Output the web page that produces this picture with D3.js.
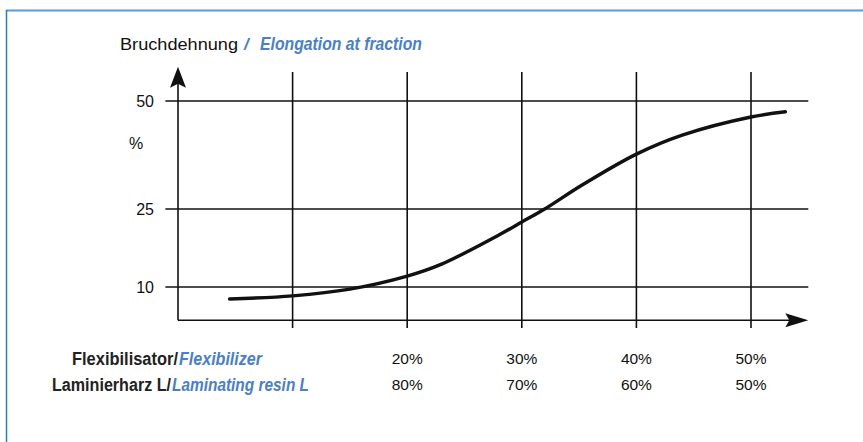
<!DOCTYPE html>
<html lang="de">
<head>
  <meta charset="UTF-8">
  <title>Bruchdehnung / Elongation at fraction</title>
  <script src="https://d3js.org/d3.v7.min.js"></script>
  <style>
    body { margin: 0; background: #fff; }
    svg { display: block; }
    .label { font-family: "Liberation Sans", Arial, sans-serif; fill: #111; }
    .cond { font-family: "Liberation Sans", Arial, sans-serif; font-weight: bold; fill: #222; }
    .blue { fill: #4a80c6; font-style: italic; }
    .grid { stroke: #111; stroke-width: 1.6; }
  </style>
</head>
<body>
  <svg id="chart"></svg>
  <script>
    // Flexibilizer content (%) vs. elongation at fracture (%)
    const flexPct    = [4.5, 10, 15, 20, 23, 28, 30, 32, 35.3, 40, 44, 50, 53];
    const elongation = [7.7, 8.3, 9.6, 12.1, 14.4, 20.0, 22.5, 25, 30.6, 37.7, 42.1, 46.3, 47.5];

    const yTicks = [10, 25, 50];
    const xGrid = [10, 20, 30, 40, 50];
    const flexLabels = ["20%", "30%", "40%", "50%"];
    const resinLabels = ["80%", "70%", "60%", "50%"];
    const labelAt = [20, 30, 40, 50];

    const width = 863;
    const height = 442;

    const svg = d3.select("#chart")
      .attr("width", width)
      .attr("height", height);

    // frame
    svg.append("line")
      .attr("x1", 6).attr("x2", width).attr("y1", 10.5).attr("y2", 10.5)
      .attr("stroke", "#5b9bd5").attr("stroke-width", 2);
    svg.append("line")
      .attr("x1", 6.5).attr("x2", 6.5).attr("y1", 10).attr("y2", height)
      .attr("stroke", "#1f7fd0").attr("stroke-width", 1.5);

    // scales (the y axis of the original is not evenly spaced)
    const x = d3.scaleLinear().domain([0, 50]).range([178, 751]);
    const y = d3.scaleLinear().domain([10, 25, 50]).range([287, 209, 101]);

    const xEnd = x(55);
    const yBase = y(3.6);

    // horizontal grid
    svg.selectAll(".hgrid")
      .data(yTicks)
      .enter()
      .append("line")
      .attr("class", "grid")
      .attr("x1", x(-1.1))
      .attr("x2", xEnd)
      .attr("y1", d => y(d))
      .attr("y2", d => y(d));

    // vertical grid
    svg.selectAll(".vgrid")
      .data(xGrid)
      .enter()
      .append("line")
      .attr("class", "grid")
      .attr("x1", d => x(d))
      .attr("x2", d => x(d))
      .attr("y1", y(56.7))
      .attr("y2", y(2.1));

    // axes
    svg.append("line")
      .attr("class", "grid")
      .attr("x1", x(0)).attr("x2", xEnd - 10)
      .attr("y1", yBase).attr("y2", yBase);
    svg.append("line")
      .attr("class", "grid")
      .attr("x1", x(0)).attr("x2", x(0))
      .attr("y1", yBase).attr("y2", y(57) + 10);

    // arrow heads
    const ax = xEnd, ay = yBase;
    svg.append("path")
      .attr("d", `M${ax},${ay} L${ax - 23},${ay - 7} L${ax - 19},${ay} L${ax - 23},${ay + 7} Z`)
      .attr("fill", "#111");
    const tx = x(0), ty = y(57.9);
    svg.append("path")
      .attr("d", `M${tx},${ty} L${tx - 8},${ty + 21} L${tx},${ty + 17} L${tx + 8},${ty + 21} Z`)
      .attr("fill", "#111");

    // curve
    const line = d3.line()
      .x((d, i) => x(flexPct[i]))
      .y(d => y(d))
      .curve(d3.curveCatmullRom.alpha(0.5));

    svg.append("path")
      .datum(elongation)
      .attr("d", line)
      .attr("fill", "none")
      .attr("stroke", "#111")
      .attr("stroke-width", 3.4)
      .attr("stroke-linecap", "round");

    // y labels
    svg.selectAll(".ylab")
      .data(yTicks)
      .enter()
      .append("text")
      .attr("class", "label")
      .attr("x", 154)
      .attr("y", d => y(d) + 6)
      .attr("text-anchor", "end")
      .attr("font-size", 16)
      .text(d => d);

    svg.append("text")
      .attr("class", "label")
      .attr("x", 129)
      .attr("y", 149)
      .attr("font-size", 16)
      .text("%");

    // text pieces squeezed to the widths of the condensed original face
    function piece(cls, x0, y0, size, len, txt) {
      const t = svg.append("text")
        .attr("class", cls)
        .attr("x", x0)
        .attr("y", y0)
        .attr("font-size", size)
        .text(txt);
      if (len) t.attr("textLength", len).attr("lengthAdjust", "spacingAndGlyphs");
    }

    // title
    piece("label", 120, 50, 17, 118, "Bruchdehnung");
    piece("cond blue", 244, 50, 17, null, "/");
    piece("cond blue", 260, 50, 17.5, 162, "Elongation at fraction");

    // bottom rows
    piece("cond", 72, 365, 17.5, 106, "Flexibilisator/");
    piece("cond blue", 179, 365, 17.5, 83, "Flexibilizer");
    piece("cond", 52, 391, 17.5, 119, "Laminierharz L/");
    piece("cond blue", 172, 391, 17.5, 137, "Laminating resin L");

    svg.selectAll(".flex")
      .data(flexLabels)
      .enter()
      .append("text")
      .attr("class", "label")
      .attr("x", (d, i) => x(labelAt[i]))
      .attr("y", 364)
      .attr("text-anchor", "middle")
      .attr("font-size", 15.5)
      .text(d => d);

    svg.selectAll(".resin")
      .data(resinLabels)
      .enter()
      .append("text")
      .attr("class", "label")
      .attr("x", (d, i) => x(labelAt[i]))
      .attr("y", 390)
      .attr("text-anchor", "middle")
      .attr("font-size", 15.5)
      .text(d => d);
  </script>
</body>
</html>
